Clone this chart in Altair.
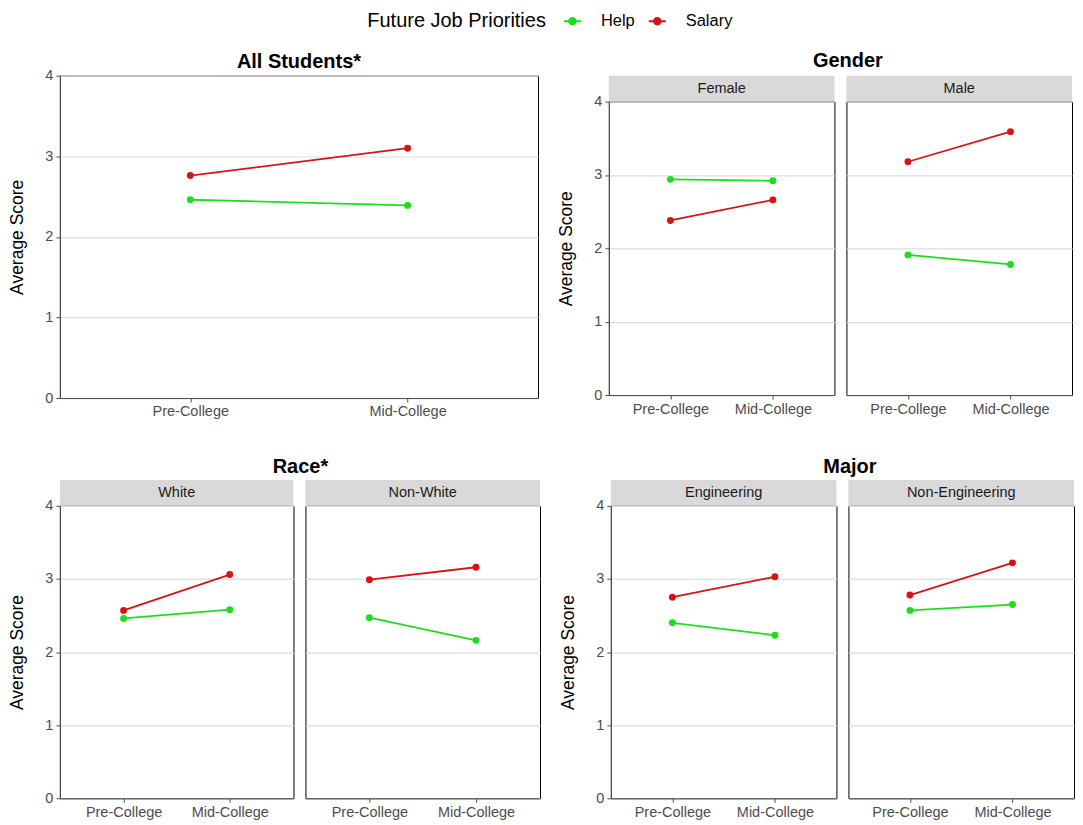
import altair as alt
import pandas as pd

FONT = "Liberation Sans"

time_points = ["Pre-College", "Mid-College"]
series_names = ["Help", "Salary"]
series_colors = ["#1fdc1f", "#d41515"]

panel_names = ["All Students", "Female", "Male", "White", "Non-White", "Engineering", "Non-Engineering"]
help_pre = [2.46, 2.94, 1.91, 2.46, 2.47, 2.40, 2.57]
help_mid = [2.39, 2.92, 1.78, 2.58, 2.16, 2.23, 2.65]
salary_pre = [2.76, 2.38, 3.18, 2.57, 2.99, 2.75, 2.78]
salary_mid = [3.10, 2.66, 3.59, 3.06, 3.16, 3.03, 3.22]

rows = []
for i, p in enumerate(panel_names):
    rows.append({"panel": p, "series": "Help", "time": time_points[0], "score": help_pre[i]})
    rows.append({"panel": p, "series": "Help", "time": time_points[1], "score": help_mid[i]})
    rows.append({"panel": p, "series": "Salary", "time": time_points[0], "score": salary_pre[i]})
    rows.append({"panel": p, "series": "Salary", "time": time_points[1], "score": salary_mid[i]})
df = pd.DataFrame(rows)

LEGEND_SYMBOL = "M-1,0H1M-0.38,0A0.38,0.38,0,1,0,0.38,0A0.38,0.38,0,1,0,-0.38,0Z"

legend = alt.Legend(
    orient="none", legendX=308, legendY=-64, direction="horizontal",
    title="Future Job Priorities", titleOrient="left", titleFontSize=20, titleLimit=400,
    titleFontWeight="normal", titleColor="black", titleFont=FONT, titlePadding=17,
    labelFontSize=16.5, labelColor="black", labelFont=FONT,
    symbolType=LEGEND_SYMBOL, symbolSize=289, symbolStrokeWidth=2,
    columnPadding=10, labelOffset=19,
)


def plot_view(name, width, height, show_y):
    data = df[df.panel == name]
    x = alt.X(
        "time:N", sort=time_points,
        scale=alt.Scale(type="point", padding=0.6),
        axis=alt.Axis(title=None, labelAngle=0, labelFontSize=14.5, labelColor="#4d4d4d",
                      tickColor="#4d4d4d", domainColor="#4d4d4d", tickSize=4,
                      labelPadding=3, grid=False, labelFont=FONT),
    )
    if show_y:
        yaxis = alt.Axis(title="Average Score", values=[0, 1, 2, 3, 4], format="d",
                         titleFontSize=17.5, titleFontWeight="normal", titleColor="black",
                         titleFont=FONT, titlePadding=18,
                         labelFontSize=14.5, labelColor="#4d4d4d", labelFont=FONT, labelPadding=3,
                         tickColor="#4d4d4d", domainColor="#4d4d4d", tickSize=4,
                         grid=True, gridColor="#dcdcdc", gridWidth=1.2)
    else:
        yaxis = alt.Axis(title=None, values=[0, 1, 2, 3, 4], labels=False, ticks=False,
                         domain=False, grid=True, gridColor="#dcdcdc", gridWidth=1.2)
    y = alt.Y("score:Q", scale=alt.Scale(domain=[0, 4], nice=False, zero=True), axis=yaxis)
    color = alt.Color("series:N", scale=alt.Scale(domain=series_names, range=series_colors),
                      legend=legend)
    base = alt.Chart(data).encode(x=x, y=y, color=color)
    line = base.mark_line(strokeWidth=1.8)
    pts = base.mark_point(filled=True, size=48, opacity=1)
    return alt.layer(line, pts).properties(width=width, height=height)


def strip(name, width):
    return alt.Chart(pd.DataFrame({"label": [name]})).mark_text(
        font=FONT, fontSize=14.5, color="#1a1a1a"
    ).encode(text="label:N").properties(
        width=width, height=26,
        view=alt.ViewBackground(fill="#d9d9d9", stroke="#d9d9d9", strokeWidth=0),
    )


def facet_panel(name, width, height, show_y):
    return alt.vconcat(strip(name, width), plot_view(name, width, height, show_y),
                       spacing=0, bounds="flush")


def group_title(text, dx, dy, frame):
    return alt.Title(text, fontSize=20, fontWeight="bold", font=FONT, color="black",
                     anchor="middle", frame=frame, offset=0, dx=dx, dy=dy)


all_students = plot_view("All Students", 479, 323, True).properties(
    title=group_title("All Students*", 0, 4, "group"))

gender = alt.hconcat(
    facet_panel("Female", 226, 294, True),
    facet_panel("Male", 226, 294, False),
    spacing=10,
).properties(title=group_title("Gender", 33, -5, "bounds"))

race = alt.hconcat(
    facet_panel("White", 234, 293, True),
    facet_panel("Non-White", 235, 293, False),
    spacing=10,
).properties(title=group_title("Race*", 26, -3, "bounds"))

major = alt.hconcat(
    facet_panel("Engineering", 226, 293, True),
    facet_panel("Non-Engineering", 226, 293, False),
    spacing=10,
).properties(title=group_title("Major", 33, -3, "bounds"))

row1 = alt.hconcat(all_students, gender, spacing=18)
row2 = alt.hconcat(race, major, spacing=18)

chart = alt.vconcat(row1, row2, spacing=38).resolve_scale(color="shared").properties(
    padding={"left": 0, "top": 3, "right": 0, "bottom": 0}
).configure(font=FONT, background="white").configure_view(stroke="black", strokeWidth=1)

chart.save("out.html", embed_options={"renderer": "svg", "actions": False})
